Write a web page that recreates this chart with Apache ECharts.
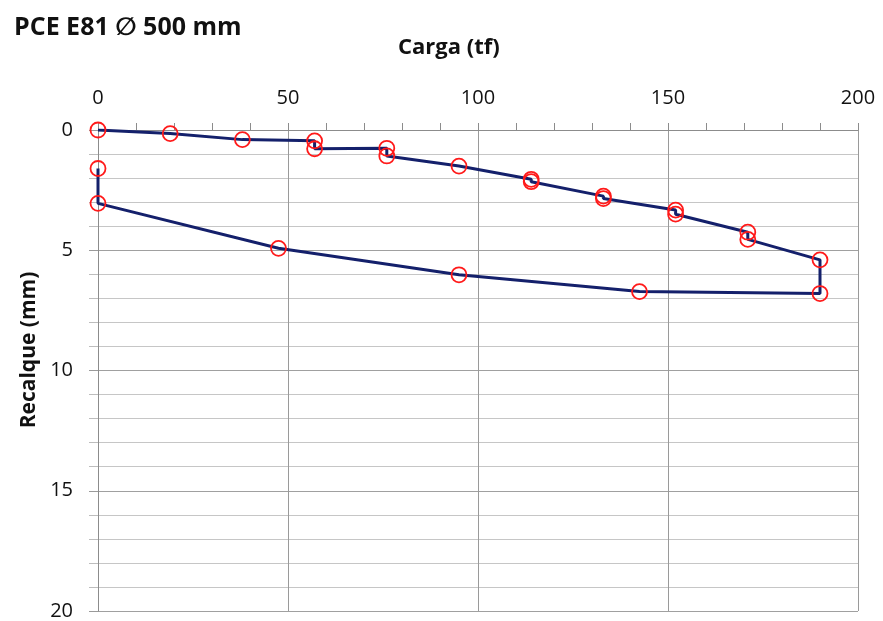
<!DOCTYPE html>
<html><head><meta charset="utf-8">
<script src="https://cdn.jsdelivr.net/npm/echarts@6/dist/echarts.min.js"></script>
<style>html,body{margin:0;padding:0;background:#fff}#c{width:883px;height:621px}</style>
</head><body><div id="c"></div>
<script>
// Carga (tf) and Recalque (mm), in path order
const cargaTf =    [0, 19, 38, 57, 57, 76, 76, 95, 114, 114, 133, 133, 152, 152, 171, 171, 190, 190, 142.5, 95, 47.5, 0, 0];
const recalqueMm = [0, 0.15, 0.4, 0.45, 0.78, 0.76, 1.08, 1.5, 2.05, 2.15, 2.75, 2.85, 3.33, 3.5, 4.25, 4.55, 5.4, 6.8, 6.72, 6.02, 4.92, 3.05, 1.6];
const xTicks = [0, 50, 100, 150, 200];
const yTicks = [0, 5, 10, 15, 20];
const titleText = 'PCE E81 \u2205 500 mm';
const xName = 'Carga (tf)';
const yName = 'Recalque (mm)';

const pts = cargaTf.map((x, i) => [x, recalqueMm[i]]);
const font = '"Open Sans", Lato, "DejaVu Sans", sans-serif';
const chart = echarts.init(document.getElementById('c'), null, {renderer: 'canvas'});
chart.setOption({
  animation: false,
  backgroundColor: '#fff',
  title: [
    {text: titleText, left: 9, top: 10, textStyle: {fontFamily: font, fontWeight: 'bold', fontSize: 25, color: '#111'}},
    {text: xName, left: 393, top: 32, textStyle: {fontFamily: font, fontWeight: 'bold', fontSize: 22, color: '#111'}}
  ],
  graphic: [{
    type: 'text', x: 29, y: 350, rotation: Math.PI / 2,
    style: {text: yName, fontFamily: font, fontWeight: 'bold', fontSize: 21, fill: '#111', align: 'center', verticalAlign: 'middle'}
  }],
  grid: {left: 98, right: 25, top: 130, bottom: 9, containLabel: false},
  xAxis: {
    type: 'value', position: 'top', min: xTicks[0], max: xTicks[xTicks.length - 1], interval: 50,
    axisLine: {show: true, lineStyle: {color: '#8c8c8c', width: 1}},
    axisTick: {show: true, inside: false, length: 7, lineStyle: {color: '#8c8c8c'}},
    minorTick: {show: true, splitNumber: 5, length: 7, lineStyle: {color: '#8c8c8c'}},
    axisLabel: {margin: 22, fontFamily: font, fontSize: 20, color: '#111'},
    splitLine: {show: true, lineStyle: {color: '#9a9a9a', width: 1}},
    minorSplitLine: {show: false}
  },
  yAxis: {
    type: 'value', inverse: true, min: yTicks[0], max: yTicks[yTicks.length - 1], interval: 5,
    axisLine: {show: true, lineStyle: {color: '#8c8c8c', width: 1}},
    axisTick: {show: true, length: 9, lineStyle: {color: '#9a9a9a'}},
    minorTick: {show: true, splitNumber: 5, length: 9, lineStyle: {color: '#bdbdbd'}},
    axisLabel: {margin: 25, fontFamily: font, fontSize: 20, color: '#111'},
    splitLine: {show: true, lineStyle: {color: '#a0a0a0', width: 1}},
    minorSplitLine: {show: true, lineStyle: {color: '#c6c6c6', width: 1}}
  },
  series: [{
    type: 'line', data: pts, showSymbol: true, symbol: 'circle', symbolSize: 15,
    lineStyle: {color: '#14206b', width: 3},
    itemStyle: {color: 'rgba(0,0,0,0)', borderColor: '#ff1a1a', borderWidth: 1.8},
    z: 3
  }]
});
</script></body></html>
